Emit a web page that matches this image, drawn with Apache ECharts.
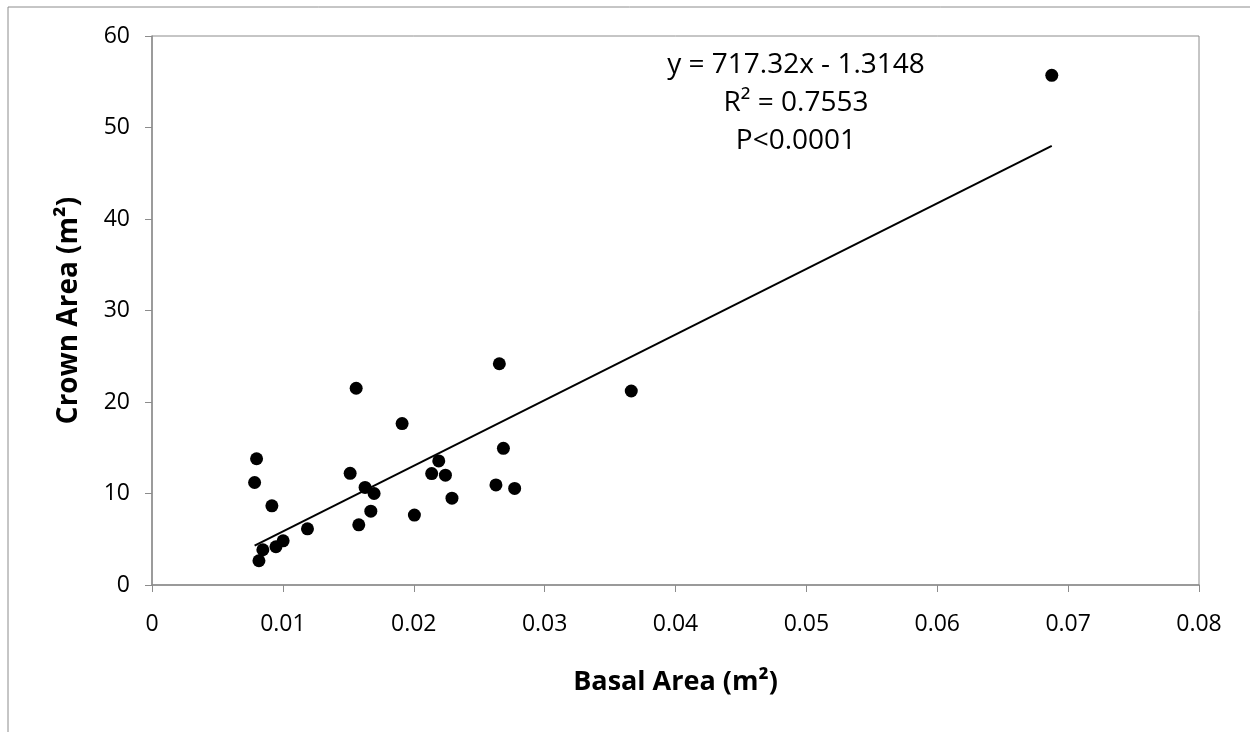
<!DOCTYPE html>
<html>
<head>
<meta charset="utf-8">
<script src="https://cdn.jsdelivr.net/npm/echarts@6/dist/echarts.min.js"></script>
<style>
  html, body { margin: 0; padding: 0; background: #fff; }
  #chart { width: 1250px; height: 732px; }
</style>
</head>
<body>
<div id="chart"></div>
<script>
// basal area (m2) / crown area (m2)
var basalArea = [0.00799, 0.00784, 0.00916, 0.00847, 0.00817, 0.00947, 0.01002, 0.01188,
                 0.01560, 0.01514, 0.01628, 0.01697, 0.01672, 0.01580, 0.01911, 0.02005,
                 0.02137, 0.02191, 0.02242, 0.02292, 0.02654, 0.02685, 0.02628, 0.02771,
                 0.03662, 0.06875];
var crownArea = [13.8, 11.2, 8.65, 3.85, 2.65, 4.18, 4.83, 6.14,
                 21.5, 12.2, 10.66, 10.0, 8.07, 6.58, 17.64, 7.64,
                 12.18, 13.56, 12.0, 9.49, 24.18, 14.94, 10.94, 10.55,
                 21.2, 55.7];
var xTicks = [0, 0.01, 0.02, 0.03, 0.04, 0.05, 0.06, 0.07, 0.08];
var yTicks = [0, 10, 20, 30, 40, 50, 60];
var slope = 717.32, intercept = -1.3148;
var eqLines = ['y = 717.32x - 1.3148', 'R\u00B2 = 0.7553', 'P<0.0001'];

var pts = basalArea.map(function(x, i){ return [x, crownArea[i]]; });
var xMin = Math.min.apply(null, basalArea), xMax = Math.max.apply(null, basalArea);
var trend = [[xMin, slope*xMin+intercept], [xMax, slope*xMax+intercept]];

var font = '"Open Sans", "Liberation Sans", sans-serif';
var chart = echarts.init(document.getElementById('chart'));
chart.setOption({
  animation: false,
  backgroundColor: '#fff',
  textStyle: { fontFamily: font },
  grid: { left: 152, right: 51, top: 36, bottom: 147, show: true, borderColor: '#8c8c8c', borderWidth: 1 },
  xAxis: {
    type: 'value', min: xTicks[0], max: xTicks[xTicks.length-1], interval: 0.01,
    name: 'Basal Area (m\u00B2)', nameLocation: 'middle', nameGap: 84,
    nameTextStyle: { fontSize: 27, fontWeight: 'bold', color: '#000', fontFamily: font },
    axisLine: { onZero: false, lineStyle: { color: '#8c8c8c', width: 1.5 } },
    axisTick: { show: true, length: 7, lineStyle: { color: '#8c8c8c' } },
    axisLabel: { fontSize: 23, color: '#000', margin: 28, fontFamily: font,
      formatter: function(v){ return v === 0 ? '0' : String(+v.toFixed(2)); } },
    splitLine: { show: false }
  },
  yAxis: {
    type: 'value', min: yTicks[0], max: yTicks[yTicks.length-1], interval: 10,
    name: 'Crown Area (m\u00B2)', nameLocation: 'middle', nameGap: 69, nameRotate: 90,
    nameTextStyle: { fontSize: 28, fontWeight: 'bold', color: '#000', fontFamily: font },
    axisLine: { show: true, lineStyle: { color: '#8c8c8c', width: 1.5 } },
    axisTick: { show: true, length: 7, lineStyle: { color: '#8c8c8c' } },
    axisLabel: { fontSize: 23, color: '#000', margin: 22, fontFamily: font },
    splitLine: { show: false }
  },
  graphic: [
    { type: 'rect', shape: { x: 8, y: 7, width: 1260, height: 740 },
      style: { fill: 'none', stroke: '#8c8c8c', lineWidth: 1 }, silent: true, z: -10 },
    { type: 'text', x: 796, y: 65, style: { text: eqLines[0], fill: '#000',
      font: '28px ' + font, textAlign: 'center', textVerticalAlign: 'middle' } },
    { type: 'text', x: 796, y: 103, style: { text: eqLines[1], fill: '#000',
      font: '28px ' + font, textAlign: 'center', textVerticalAlign: 'middle' } },
    { type: 'text', x: 796, y: 141, style: { text: eqLines[2], fill: '#000',
      font: '28px ' + font, textAlign: 'center', textVerticalAlign: 'middle' } }
  ],
  series: [
    { type: 'line', data: trend, symbol: 'none', lineStyle: { color: '#000', width: 2 }, z: 2 },
    { type: 'scatter', data: pts, symbol: 'circle', symbolSize: 13,
      itemStyle: { color: '#000', opacity: 1 }, z: 3 }
  ]
});
</script>
</body>
</html>
